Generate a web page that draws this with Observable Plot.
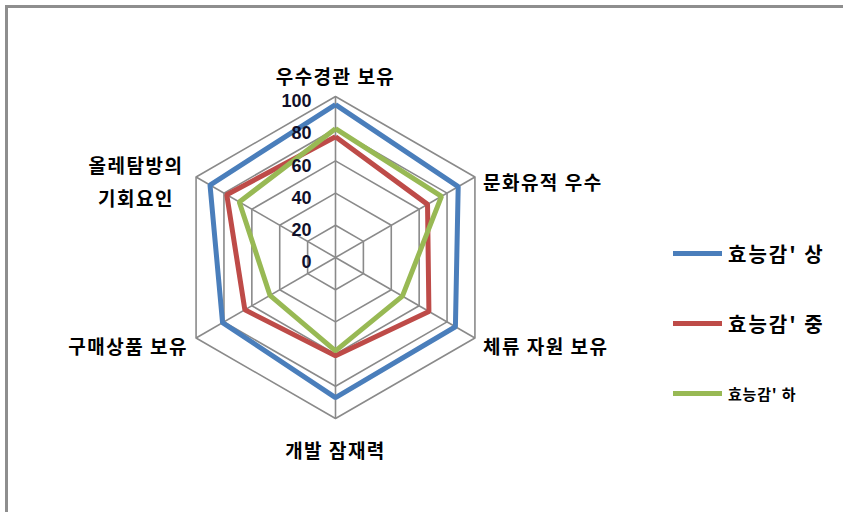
<!DOCTYPE html>
<html>
<head>
<meta charset="utf-8">
<script src="https://cdn.jsdelivr.net/npm/d3@7"></script>
<script src="https://cdn.jsdelivr.net/npm/@observablehq/plot@0.6"></script>
<style>
  html, body { margin: 0; padding: 0; background: #fff; overflow: hidden; }
  #wrap { position: relative; width: 843px; height: 512px; overflow: hidden; }
  #frame { position: absolute; left: 5px; top: 5px; width: 900px; height: 600px; border: 3px solid #8e8e8e; box-sizing: border-box; }
  #chart { position: absolute; left: 0; top: 0; }
  #legend { position: absolute; left: 673px; top: 0; font-family: "Noto Sans CJK KR", sans-serif; font-weight: 700; color: #000; }
  .item { position: absolute; left: 0; display: flex; align-items: center; white-space: nowrap; }
  .swatch { width: 49px; height: 5px; margin-right: 6px; }
</style>
</head>
<body>
<div id="wrap">
  <div id="frame"></div>
  <div id="chart"></div>
  <div id="legend"></div>
</div>
<script>
const categories = ["우수경관 보유", "문화유적 우수", "체류 자원 보유", "개발 잠재력", "구매상품 보유", "올레탐방의\n기회요인"];
const seriesNames = ["효능감' 상", "효능감' 중", "효능감' 하"];
const valuesHigh = [95, 88, 86, 87, 81, 90];
const valuesMid  = [75, 66, 67, 61, 65, 78];
const valuesLow  = [80, 76, 48, 58, 47, 69];
const tickValues = [0, 20, 40, 60, 80, 100];
const seriesColors = ["#4A7EBB", "#BE4B48", "#98B954"];

const W = 843, H = 512;
const cx = 335, cy = 257, pxPerUnit = 1.61;
const n = categories.length;
const angle = i => (i * 2 * Math.PI) / n;
const px = (i, v) => v * Math.sin(angle(i));
const py = (i, v) => v * Math.cos(angle(i));

// rings
const ringPts = [];
tickValues.filter(t => t > 0).forEach(t => {
  for (let i = 0; i <= n; i++) ringPts.push({ring: t, x: px(i % n, t), y: py(i % n, t)});
});
// spokes
const spokes = categories.map((c, i) => ({x1: 0, y1: 0, x2: px(i, 100), y2: py(i, 100)}));
// series
const allSeries = [valuesHigh, valuesMid, valuesLow];
const seriesPts = [];
allSeries.forEach((vals, s) => {
  for (let i = 0; i <= n; i++) seriesPts.push({series: seriesNames[s], x: px(i % n, vals[i % n]), y: py(i % n, vals[i % n])});
});
// category labels
const labelRows = categories.map((c, i) => {
  const sx = Math.sin(angle(i)), sy = Math.cos(angle(i));
  let anchor = "middle", dx = 0, dy = 0;
  if (Math.abs(sx) < 1e-6) { dy = sy > 0 ? -23 : 29; }
  else if (c.includes("\n")) { dx = -60; dy = 2; }
  else if (sx > 0) { anchor = "start"; dx = 8; dy = sy > 0 ? 2 : 5; }
  else { anchor = "end"; dx = -8; dy = sy > 0 ? 2 : 5; }
  return {label: c, x: px(i, 100), y: py(i, 100), anchor, dx, dy};
});

const plot = Plot.plot({
  width: W, height: H,
  marginTop: 0, marginBottom: 0, marginLeft: 0, marginRight: 0,
  x: {domain: [-cx / pxPerUnit, (W - cx) / pxPerUnit], range: [0, W], axis: null},
  y: {domain: [-(H - cy) / pxPerUnit, cy / pxPerUnit], range: [H, 0], axis: null},
  color: {domain: seriesNames, range: seriesColors},
  style: {background: "transparent", overflow: "visible"},
  marks: [
    Plot.line(ringPts, {x: "x", y: "y", z: "ring", stroke: "#8a8a8a", strokeWidth: 1.6}),
    Plot.link(spokes, {x1: "x1", y1: "y1", x2: "x2", y2: "y2", stroke: "#8a8a8a", strokeWidth: 1.6}),
    Plot.line(seriesPts, {x: "x", y: "y", z: "series", stroke: "series", strokeWidth: 5, strokeLinejoin: "miter", strokeLinecap: "butt"}),
    Plot.text(tickValues, {x: 0, y: d => d, text: d => String(d), textAnchor: "end", dx: -24, dy: 5,
      fontSize: 18, fontWeight: "bold", fontFamily: "Liberation Sans, Arial, sans-serif", fill: "#10102a"}),
    ...labelRows.map(r => Plot.text([r], {x: "x", y: "y", text: "label", textAnchor: r.anchor, dx: r.dx, dy: r.dy,
      fontSize: 19, fontWeight: "bold", fontFamily: "Noto Sans CJK KR, sans-serif", fill: "#000", lineHeight: 1.75}))
  ]
});
plot.querySelectorAll("text").forEach(t => { if (/[가-힣]/.test(t.textContent)) t.style.letterSpacing = "1.5px"; });
document.getElementById("chart").appendChild(plot);

// legend
const legend = document.getElementById("legend");
const legendY = [253, 323, 393];
const legendSize = [20, 20, 15];
seriesNames.forEach((name, s) => {
  const item = document.createElement("div");
  item.className = "item";
  item.style.top = (legendY[s] - 15) + "px";
  item.style.height = "30px";
  const sw = document.createElement("div");
  sw.className = "swatch";
  sw.style.background = seriesColors[s];
  const tx = document.createElement("span");
  tx.textContent = name;
  tx.style.fontSize = legendSize[s] + "px";
  tx.style.letterSpacing = s === 2 ? "0.8px" : "2px";
  item.appendChild(sw); item.appendChild(tx);
  legend.appendChild(item);
});
</script>
</body>
</html>
